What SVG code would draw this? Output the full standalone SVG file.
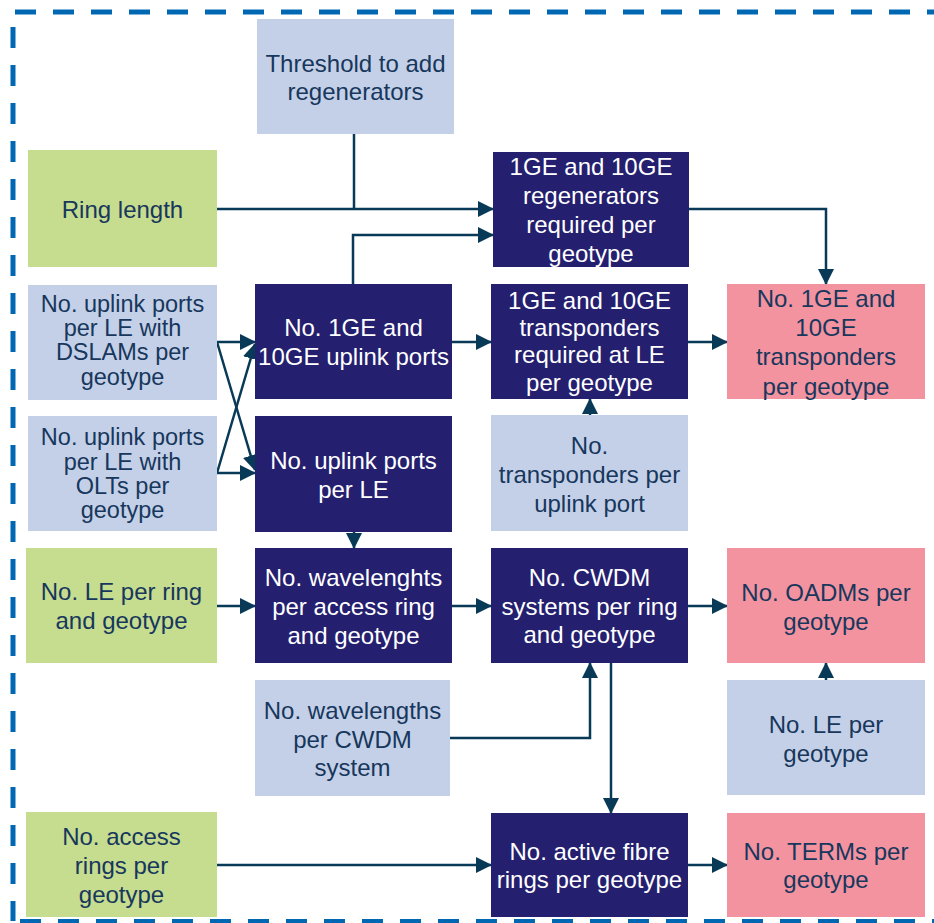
<svg xmlns="http://www.w3.org/2000/svg" width="934" height="923" viewBox="0 0 934 923">
<defs>
<marker id="ah" markerUnits="userSpaceOnUse" markerWidth="16" markerHeight="16" refX="15" refY="8" orient="auto">
<path d="M0,0 L16,8 L0,16 z" fill="#083a58"/>
</marker>
<style>
.lb{fill:#c4d0e8}.gr{fill:#c6dc8f}.dk{fill:#251f6f}.pk{fill:#f493a0}
text{font-family:"Liberation Sans",Arial,sans-serif;font-size:24px;text-anchor:middle}
.tl{fill:#17375c}.tw{fill:#ffffff}.sm{font-size:23.5px}
.c{fill:none;stroke:#083a58;stroke-width:2.5}
.a{marker-end:url(#ah)}
.bd{fill:none;stroke:#0068b3;stroke-width:5;stroke-dasharray:21 17}
</style>
</defs>
<g id="border">
<line class="bd" x1="15" y1="12" x2="934" y2="12"/>
<line class="bd" x1="13" y1="27" x2="13" y2="921"/>
<line class="bd" x1="20" y1="921.5" x2="934" y2="921.5"/>
</g>
<g id="connectors">
<path class="c" d="M354,134 V209"/>
<path class="c a" d="M217,209 H493"/>
<path class="c a" d="M353,284 V235 H493"/>
<path class="c a" d="M689,209 H826 V284"/>
<path class="c a" d="M217,342 H255"/>
<path class="c a" d="M217,342 L255,470"/>
<path class="c a" d="M217,473 H255"/>
<path class="c a" d="M217,473 L255,344"/>
<path class="c a" d="M452,342 H491"/>
<path class="c a" d="M688,342 H727"/>
<path class="c a" d="M590,415 V399"/>
<path class="c a" d="M354,532 V548"/>
<path class="c a" d="M217,606 H255"/>
<path class="c a" d="M452,606 H491"/>
<path class="c a" d="M688,606 H727"/>
<path class="c a" d="M826,680 V663"/>
<path class="c a" d="M450,738 H590 V663"/>
<path class="c a" d="M611,663 V813"/>
<path class="c a" d="M217,865 H491"/>
<path class="c a" d="M688,865 H727"/>
</g>
<g id="threshold"><rect class="lb" x="257" y="19" width="197" height="115"/>
<text class="tl"><tspan x="355.5" y="72">Threshold to add</tspan><tspan x="355.5" y="100">regenerators</tspan></text></g>
<g id="ring-length"><rect class="gr" x="28" y="150" width="189" height="117"/>
<text class="tl"><tspan x="122.5" y="218">Ring length</tspan></text></g>
<g id="regenerators"><rect class="dk" x="493" y="152" width="196" height="115"/>
<text class="tw"><tspan x="591" y="175">1GE and 10GE</tspan><tspan x="591" y="204">regenerators</tspan><tspan x="591" y="233">required per</tspan><tspan x="591" y="262">geotype</tspan></text></g>
<g id="uplink-dslam"><rect class="lb" x="28" y="285" width="189" height="115"/>
<text class="tl sm"><tspan x="122.5" y="312">No. uplink ports</tspan><tspan x="122.5" y="336">per LE with</tspan><tspan x="122.5" y="360">DSLAMs per</tspan><tspan x="122.5" y="385">geotype</tspan></text></g>
<g id="uplink-ports"><rect class="dk" x="255" y="284" width="197" height="115"/>
<text class="tw"><tspan x="353.5" y="336">No. 1GE and</tspan><tspan x="353.5" y="365">10GE uplink ports</tspan></text></g>
<g id="transponders-required"><rect class="dk" x="491" y="284" width="197" height="115"/>
<text class="tw"><tspan x="589.5" y="309">1GE and 10GE</tspan><tspan x="589.5" y="336">transponders</tspan><tspan x="589.5" y="363">required at LE</tspan><tspan x="589.5" y="391">per geotype</tspan></text></g>
<g id="transponders-geotype"><rect class="pk" x="727" y="284" width="198" height="115"/>
<text class="tl"><tspan x="826" y="307">No. 1GE and</tspan><tspan x="826" y="336">10GE</tspan><tspan x="826" y="365">transponders</tspan><tspan x="826" y="395">per geotype</tspan></text></g>
<g id="uplink-olt"><rect class="lb" x="28" y="416" width="189" height="115"/>
<text class="tl sm"><tspan x="122.5" y="445">No. uplink ports</tspan><tspan x="122.5" y="470">per LE with</tspan><tspan x="122.5" y="494">OLTs per</tspan><tspan x="122.5" y="518">geotype</tspan></text></g>
<g id="uplink-per-le"><rect class="dk" x="255" y="416" width="197" height="116"/>
<text class="tw"><tspan x="353.5" y="469">No. uplink ports</tspan><tspan x="353.5" y="498">per LE</tspan></text></g>
<g id="transponders-per-port"><rect class="lb" x="491" y="415" width="197" height="116"/>
<text class="tl"><tspan x="589.5" y="454">No.</tspan><tspan x="589.5" y="483">transponders per</tspan><tspan x="589.5" y="512">uplink port</tspan></text></g>
<g id="le-per-ring"><rect class="gr" x="26" y="548" width="191" height="115"/>
<text class="tl"><tspan x="121.5" y="600">No. LE per ring</tspan><tspan x="121.5" y="629">and geotype</tspan></text></g>
<g id="wavelenghts-ring"><rect class="dk" x="255" y="548" width="197" height="115"/>
<text class="tw"><tspan x="353.5" y="586">No. wavelenghts</tspan><tspan x="353.5" y="615">per access ring</tspan><tspan x="353.5" y="644">and geotype</tspan></text></g>
<g id="cwdm-systems"><rect class="dk" x="491" y="548" width="197" height="115"/>
<text class="tw"><tspan x="589.5" y="586">No. CWDM</tspan><tspan x="589.5" y="615">systems per ring</tspan><tspan x="589.5" y="643">and geotype</tspan></text></g>
<g id="oadms"><rect class="pk" x="727" y="548" width="198" height="115"/>
<text class="tl"><tspan x="826" y="601">No. OADMs per</tspan><tspan x="826" y="630">geotype</tspan></text></g>
<g id="wavelengths-cwdm"><rect class="lb" x="255" y="680" width="195" height="116"/>
<text class="tl"><tspan x="352.5" y="719">No. wavelengths</tspan><tspan x="352.5" y="748">per CWDM</tspan><tspan x="352.5" y="776">system</tspan></text></g>
<g id="le-per-geotype"><rect class="lb" x="727" y="680" width="198" height="115"/>
<text class="tl"><tspan x="826" y="733">No. LE per</tspan><tspan x="826" y="762">geotype</tspan></text></g>
<g id="access-rings"><rect class="gr" x="26" y="812" width="191" height="105"/>
<text class="tl"><tspan x="121.5" y="845">No. access</tspan><tspan x="121.5" y="874">rings per</tspan><tspan x="121.5" y="903">geotype</tspan></text></g>
<g id="active-fibre"><rect class="dk" x="491" y="813" width="197" height="104"/>
<text class="tw"><tspan x="589.5" y="860">No. active fibre</tspan><tspan x="589.5" y="888">rings per geotype</tspan></text></g>
<g id="terms"><rect class="pk" x="727" y="813" width="198" height="104"/>
<text class="tl"><tspan x="826" y="860">No. TERMs per</tspan><tspan x="826" y="888">geotype</tspan></text></g>
</svg>
